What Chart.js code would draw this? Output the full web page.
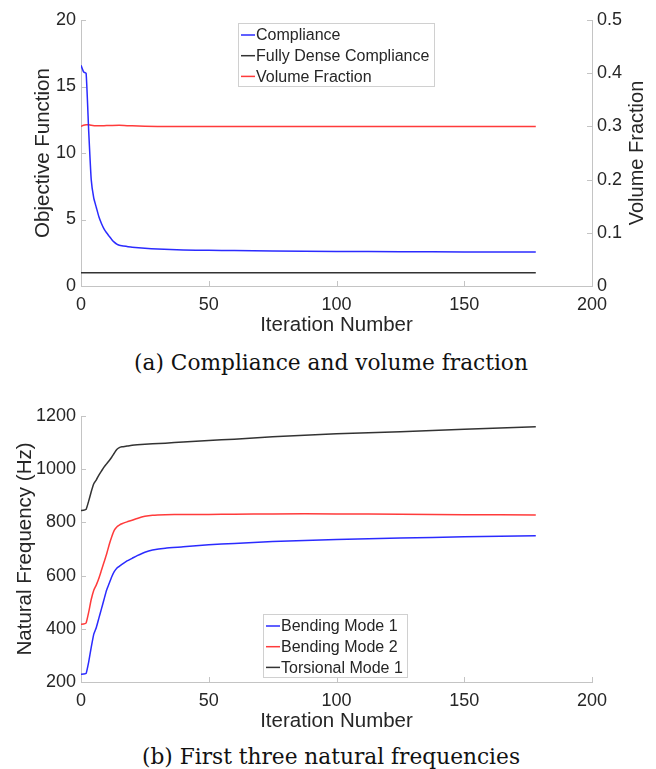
<!DOCTYPE html>
<html lang="en">
<head>
    <meta charset="UTF-8">
    <title>Compliance and natural frequencies</title>
    <script src="https://cdn.jsdelivr.net/npm/chart.js"></script>
    <style>
        body {
            margin: 0;
            background: #fff;
            width: 656px;
            height: 769px;
            position: relative;
            overflow: hidden;
        }
        .box {
            position: absolute;
            left: 0;
            width: 656px;
            height: 345px;
        }
        .caption {
            position: absolute;
            left: 0;
            width: 662px;
            text-align: center;
            font-family: "DejaVu Serif", serif;
            font-size: 21.7px;
            color: #111;
            white-space: nowrap;
        }
    </style>
</head>
<body>

    <div class="box" style="top:0"><canvas id="chartA"></canvas></div>
    <div class="caption" style="top:350px">(a) Compliance and volume fraction</div>
    <div class="box" style="top:396px"><canvas id="chartB"></canvas></div>
    <div class="caption" style="top:744px">(b) First three natural frequencies</div>

    <script>
        // (a) compliance history
        const complianceIter = [0, 1, 2, 3, 4, 5, 6, 7, 8, 9, 10, 11, 12, 13, 14, 15, 16, 18, 20, 25, 30, 35, 40, 50, 60, 75, 100, 125, 150, 178];
        const compliance = [16.6, 16.1, 16.0, 11.7, 8.0, 6.6, 5.9, 5.2, 4.7, 4.3, 4.0, 3.75, 3.5, 3.3, 3.15, 3.06, 3.02, 2.97, 2.92, 2.84, 2.78, 2.74, 2.71, 2.68, 2.66, 2.63, 2.60, 2.58, 2.56, 2.55];
        const denseIter = [0, 178];
        const denseCompliance = [1.0, 1.0];
        const volumeIter = [0, 1, 2, 3, 4, 6, 10, 15, 20, 30, 60, 100, 178];
        const volumeFraction = [0.300, 0.302, 0.303, 0.303, 0.302, 0.301, 0.3015, 0.302, 0.301, 0.300, 0.300, 0.300, 0.300];

        // (b) natural frequencies
        const freqIter = [0, 1, 2, 3, 4, 5, 6, 7, 8, 9, 10, 11, 12, 13, 14, 15, 16, 18, 20, 22, 25, 28, 33, 40, 50, 60, 75, 100, 125, 150, 178];
        const bending1 = [229, 230, 232, 275, 330, 380, 405, 440, 475, 510, 545, 570, 595, 615, 628, 635, 642, 655, 665, 675, 688, 696, 703, 708, 716, 721, 728, 736, 741, 746, 750];
        const bending2 = [417, 418, 422, 462, 510, 545, 565, 590, 620, 650, 680, 715, 745, 770, 783, 790, 795, 802, 808, 815, 823, 827, 829, 830, 830, 831, 832, 832, 831, 829, 828];
        const torsional1 = [845, 846, 849, 880, 915, 945, 960, 978, 993, 1008, 1020, 1032, 1045, 1060, 1074, 1081, 1084, 1087, 1090, 1092, 1094, 1096, 1098, 1102, 1108, 1113, 1122, 1133, 1141, 1150, 1160];

        const BLUE = '#2b2bff';
        const RED = '#ff3b3b';
        const BLACK = '#333333';
        const AXIS = '#c4c4c4';
        const TEXT = '#262626';
        const SANS = '"Liberation Sans", Arial, sans-serif';

        // plain tick text, no thousands separator
        const plain = v => String(+v.toFixed(2));

        function pts(xs, ys) {
            return xs.map((x, i) => ({ x: x, y: ys[i] }));
        }

        function line(label, xs, ys, color, axis) {
            return {
                label: label,
                data: pts(xs, ys),
                borderColor: color,
                backgroundColor: color,
                borderWidth: 1.5,
                pointRadius: 0,
                tension: 0.15,
                fill: false,
                yAxisID: axis || 'y'
            };
        }

        // MATLAB style inward tick marks
        const inwardTicks = {
            id: 'inwardTicks',
            afterDatasetsDraw(chart) {
                const ctx = chart.ctx;
                const a = chart.chartArea;
                ctx.save();
                ctx.strokeStyle = AXIS;
                ctx.lineWidth = 1;
                Object.values(chart.scales).forEach(s => {
                    s.ticks.forEach(t => {
                        const p = Math.round(s.getPixelForValue(t.value)) + 0.5;
                        ctx.beginPath();
                        if (s.axis === 'x') {
                            ctx.moveTo(p, a.bottom); ctx.lineTo(p, a.bottom - 5);
                        } else if (s.position === 'left') {
                            ctx.moveTo(a.left, p); ctx.lineTo(a.left + 5, p);
                        } else {
                            ctx.moveTo(a.right, p); ctx.lineTo(a.right - 5, p);
                        }
                        ctx.stroke();
                    });
                });
                ctx.restore();
            }
        };

        // boxed legend at a fixed spot, plus the right axis title read bottom-to-top
        const boxLegend = {
            id: 'boxLegend',
            afterDraw(chart, args, opts) {
                const ctx = chart.ctx;
                ctx.save();
                ctx.fillStyle = '#fff';
                ctx.fillRect(opts.x, opts.y, opts.w, opts.h);
                ctx.strokeStyle = '#d0d0d0';
                ctx.lineWidth = 1;
                ctx.strokeRect(opts.x + 0.5, opts.y + 0.5, opts.w, opts.h);
                ctx.font = '16px ' + SANS;
                ctx.textBaseline = 'middle';
                chart.data.datasets.forEach((d, i) => {
                    const yy = opts.y + 12 + i * 20.7;
                    ctx.strokeStyle = d.borderColor;
                    ctx.lineWidth = 1.5;
                    ctx.beginPath();
                    ctx.moveTo(opts.x + 3, yy);
                    ctx.lineTo(opts.x + 17, yy);
                    ctx.stroke();
                    ctx.fillStyle = TEXT;
                    ctx.fillText(d.label, opts.x + 18, yy + 1);
                });
                if (opts.rightTitle) {
                    ctx.translate(637, (chart.chartArea.top + chart.chartArea.bottom) / 2);
                    ctx.rotate(-Math.PI / 2);
                    ctx.font = '20px ' + SANS;
                    ctx.textAlign = 'center';
                    ctx.fillStyle = TEXT;
                    ctx.fillText(opts.rightTitle, 0, 0);
                }
                ctx.restore();
            }
        };

        function xScale() {
            return {
                type: 'linear',
                min: 0,
                max: 200,
                grid: { display: false, drawTicks: false },
                border: { color: AXIS },
                ticks: { stepSize: 50, padding: 8, color: TEXT, font: { family: SANS, size: 18 }, maxRotation: 0, callback: plain },
                title: { display: true, text: 'Iteration Number', color: TEXT, font: { family: SANS, size: 20.5 }, padding: { top: 0, bottom: 7 } },
                afterFit(s) { s.height = 59; }
            };
        }

        function yScale(min, max, step, title, titlePad) {
            return {
                type: 'linear',
                position: 'left',
                min: min,
                max: max,
                grid: { display: false, drawTicks: false },
                border: { color: AXIS },
                ticks: { stepSize: step, padding: 5, color: TEXT, font: { family: SANS, size: 18 }, callback: plain },
                title: { display: true, text: title, color: TEXT, font: { family: SANS, size: 20.5 }, padding: { top: titlePad, bottom: 0 } },
                afterFit(s) { s.width = 81; }
            };
        }

        // chart (a)
        const rightAxis = {
            type: 'linear',
            position: 'right',
            min: 0,
            max: 0.5,
            grid: { display: false, drawTicks: false },
            border: { color: AXIS },
            ticks: { stepSize: 0.1, padding: 5, color: TEXT, font: { family: SANS, size: 18 }, callback: plain },
            afterFit(s) { s.width = 64; }
        };

        new Chart(document.getElementById('chartA'), {
            type: 'line',
            data: {
                datasets: [
                    line('Compliance', complianceIter, compliance, BLUE),
                    line('Fully Dense Compliance', denseIter, denseCompliance, BLACK),
                    line('Volume Fraction', volumeIter, volumeFraction, RED, 'y2')
                ]
            },
            options: {
                responsive: true,
                maintainAspectRatio: false,
                animation: false,
                layout: { padding: { top: 20, right: 0, left: 0, bottom: 0 } },
                plugins: {
                    legend: { display: false },
                    tooltip: { enabled: false },
                    boxLegend: { x: 238, y: 23, w: 196, h: 63, rightTitle: 'Volume Fraction' }
                },
                scales: {
                    x: xScale(),
                    y: yScale(0, 20, 5, 'Objective Function', 31),
                    y2: rightAxis
                }
            },
            plugins: [inwardTicks, boxLegend]
        });

        // chart (b)
        new Chart(document.getElementById('chartB'), {
            type: 'line',
            data: {
                datasets: [
                    line('Bending Mode 1', freqIter, bending1, BLUE),
                    line('Bending Mode 2', freqIter, bending2, RED),
                    line('Torsional Mode 1', freqIter, torsional1, BLACK)
                ]
            },
            options: {
                responsive: true,
                maintainAspectRatio: false,
                animation: false,
                layout: { padding: { top: 20, right: 64, left: 0, bottom: 0 } },
                plugins: {
                    legend: { display: false },
                    tooltip: { enabled: false },
                    boxLegend: { x: 263, y: 218, w: 144, h: 63 }
                },
                scales: {
                    x: xScale(),
                    y: yScale(200, 1200, 200, 'Natural Frequency (Hz)', 13)
                }
            },
            plugins: [inwardTicks, boxLegend]
        });
    </script>

</body>
</html>
